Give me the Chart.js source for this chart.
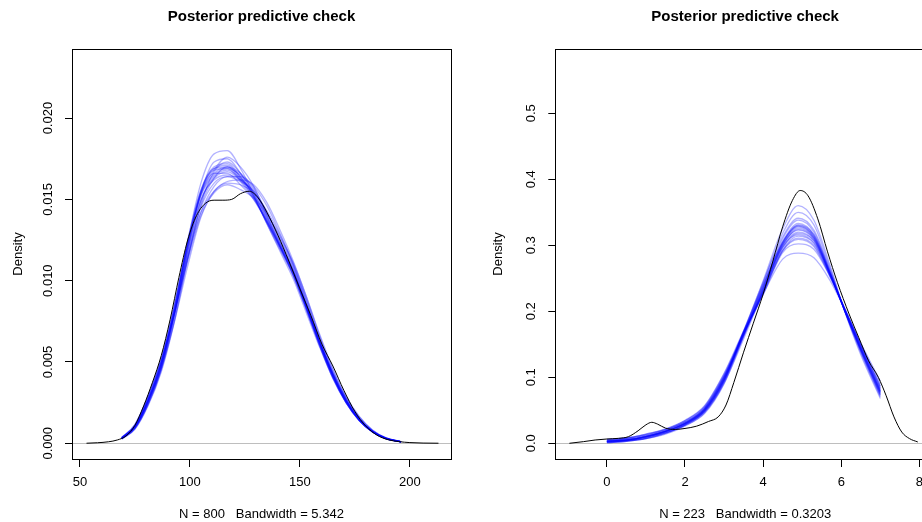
<!DOCTYPE html>
<html>
<head>
<meta charset="utf-8">
<title>Posterior predictive check</title>
<script src="https://cdn.jsdelivr.net/npm/chart.js@4"></script>
<style>
  html, body { margin: 0; padding: 0; overflow: hidden; background: #fff; width: 922px; height: 522px; }
  #left { position: absolute; left: 0; top: 0; }
  #right { position: absolute; left: 461px; top: 0; }
</style>
</head>
<body>
<canvas id="left" width="461" height="522"></canvas>
<canvas id="right" width="480" height="522"></canvas>
<script>
// ---- left panel (density values x 1000) ----
const leftObsX = [53, 58, 63, 67, 71, 75, 79, 83, 87, 91, 95, 99, 103, 107, 111, 115, 119, 123, 127, 131, 135, 140, 145, 150, 155, 160, 165, 170, 175, 180, 185, 190, 195, 200, 206, 213];
const leftObsY = [0, 0.03, 0.09, 0.2, 0.45, 1.1, 2.3, 3.75, 5.4, 7.6, 10.2, 12.5, 14.0, 14.75, 14.95, 14.95, 15.0, 15.35, 15.5, 15.1, 14.2, 12.8, 11.2, 9.5, 7.85, 6.1, 4.75, 3.25, 1.95, 1.05, 0.5, 0.22, 0.1, 0.04, 0.01, 0];

const leftRepX = [69, 75, 81, 87, 93, 99, 105, 111, 117, 123, 129, 135, 141, 147, 153, 159, 165, 171, 177, 183, 189, 196];
const leftReps = [
  [0.30, 1.00, 2.6, 4.8, 8.0, 11.8, 14.9, 16.3, 16.7, 16.2, 15.4, 13.9, 12.3, 10.7, 8.4, 6.2, 4.2, 2.6, 1.45, 0.72, 0.30, 0.08],
  [0.27, 0.90, 2.4, 4.6, 8.0, 12.4, 16.0, 17.8, 18.0, 16.9, 15.3, 13.5, 11.8, 10.1, 8.0, 5.9, 4.0, 2.5, 1.40, 0.70, 0.29, 0.08],
  [0.36, 1.15, 2.9, 5.2, 8.1, 11.4, 14.2, 15.5, 16.0, 15.9, 15.4, 14.3, 12.8, 11.0, 8.8, 6.5, 4.4, 2.8, 1.60, 0.80, 0.34, 0.10],
  [0.33, 1.05, 2.7, 5.1, 8.5, 12.3, 15.3, 16.6, 17.0, 16.4, 15.2, 13.6, 12.0, 10.4, 8.3, 6.1, 4.1, 2.6, 1.45, 0.72, 0.30, 0.09],
  [0.25, 0.85, 2.3, 4.4, 7.5, 11.3, 14.7, 16.7, 17.3, 16.6, 15.4, 13.8, 12.1, 10.3, 8.2, 6.0, 4.1, 2.5, 1.40, 0.70, 0.29, 0.07],
  [0.30, 1.00, 2.6, 4.6, 7.5, 10.9, 13.9, 15.5, 16.1, 16.2, 15.9, 14.8, 13.1, 11.2, 9.0, 6.6, 4.5, 2.8, 1.60, 0.78, 0.33, 0.09],
  [0.35, 1.15, 2.9, 5.3, 8.6, 12.4, 15.4, 16.6, 16.6, 15.9, 15.0, 13.7, 12.2, 10.6, 8.5, 6.3, 4.3, 2.7, 1.50, 0.74, 0.31, 0.09],
  [0.27, 0.92, 2.4, 4.6, 7.8, 11.9, 15.4, 17.3, 17.5, 16.6, 15.2, 13.5, 11.9, 10.3, 8.2, 6.0, 4.0, 2.5, 1.40, 0.70, 0.29, 0.08],
  [0.31, 1.02, 2.7, 4.9, 8.1, 11.6, 14.5, 16.0, 16.4, 16.1, 15.5, 14.2, 12.6, 10.9, 8.6, 6.3, 4.3, 2.7, 1.50, 0.74, 0.31, 0.09],
  [0.29, 0.97, 2.5, 4.8, 8.2, 12.2, 15.4, 16.9, 17.1, 16.3, 15.1, 13.6, 12.0, 10.4, 8.4, 6.2, 4.2, 2.6, 1.45, 0.72, 0.30, 0.08],
  [0.35, 1.12, 2.9, 5.1, 8.0, 11.2, 14.0, 15.4, 15.9, 15.6, 15.1, 14.1, 12.7, 11.1, 9.0, 6.7, 4.6, 2.9, 1.65, 0.82, 0.35, 0.10],
  [0.30, 1.02, 2.6, 5.0, 8.4, 12.2, 15.2, 16.5, 16.9, 16.5, 15.6, 14.0, 12.3, 10.5, 8.3, 6.1, 4.1, 2.55, 1.40, 0.70, 0.30, 0.08],
  [0.27, 0.90, 2.4, 4.5, 7.6, 11.4, 14.6, 16.3, 17.0, 16.6, 15.7, 14.2, 12.4, 10.6, 8.4, 6.1, 4.1, 2.5, 1.40, 0.70, 0.29, 0.08],
  [0.30, 1.00, 2.6, 4.8, 8.1, 12.2, 15.5, 17.0, 17.2, 16.4, 15.2, 13.7, 12.1, 10.5, 8.4, 6.2, 4.2, 2.6, 1.45, 0.71, 0.30, 0.08],
  [0.33, 1.08, 2.8, 5.0, 8.0, 11.4, 14.2, 15.8, 16.4, 16.4, 15.8, 14.6, 12.9, 11.0, 8.8, 6.4, 4.3, 2.7, 1.50, 0.75, 0.32, 0.09],
  [0.29, 0.97, 2.5, 4.7, 7.9, 11.7, 14.9, 16.4, 16.8, 16.3, 15.3, 13.8, 12.2, 10.6, 8.5, 6.2, 4.2, 2.6, 1.45, 0.72, 0.30, 0.08],
  [0.31, 1.03, 2.7, 5.0, 8.4, 12.5, 15.6, 16.9, 17.0, 16.2, 15.1, 13.6, 12.1, 10.5, 8.4, 6.2, 4.2, 2.6, 1.45, 0.72, 0.30, 0.08],
  [0.28, 0.95, 2.5, 4.7, 8.0, 12.0, 15.3, 16.8, 17.6, 17.0, 15.8, 14.0, 12.1, 10.3, 8.2, 6.0, 4.0, 2.5, 1.40, 0.70, 0.29, 0.08],
  [0.32, 1.05, 2.7, 4.9, 8.2, 12.0, 15.0, 16.2, 16.5, 16.2, 15.5, 14.1, 12.5, 10.8, 8.6, 6.3, 4.3, 2.7, 1.50, 0.74, 0.31, 0.09],
  [0.30, 1.00, 2.6, 4.9, 8.3, 12.3, 15.5, 16.8, 16.9, 16.1, 15.0, 13.6, 12.1, 10.5, 8.4, 6.2, 4.2, 2.6, 1.45, 0.72, 0.30, 0.08]
];
const leftXTicks = [50, 100, 150, 200];
const leftYTicks = [0, 0.005, 0.010, 0.015, 0.020];

// ---- right panel ----
const rightObsX = [-0.96, -0.6, -0.3, 0, 0.3, 0.55, 0.8, 1.0, 1.15, 1.3, 1.5, 1.75, 2.0, 2.3, 2.6, 2.85, 3.05, 3.25, 3.5, 3.75, 4.0, 4.25, 4.5, 4.75, 4.95, 5.15, 5.4, 5.65, 5.9, 6.2, 6.45, 6.7, 6.95, 7.15, 7.35, 7.55, 7.75, 7.96];
const rightObsY = [0, 0.0025, 0.005, 0.0065, 0.0075, 0.010, 0.019, 0.028, 0.0318, 0.029, 0.023, 0.021, 0.0225, 0.026, 0.033, 0.040, 0.058, 0.092, 0.138, 0.182, 0.226, 0.276, 0.328, 0.368, 0.383, 0.375, 0.340, 0.290, 0.244, 0.196, 0.160, 0.125, 0.100, 0.072, 0.040, 0.017, 0.007, 0.002];

const rightRepX = [0, 0.5, 1.0, 1.5, 2.0, 2.5, 3.0, 3.5, 4.0, 4.5, 4.9, 5.3, 5.7, 6.1, 6.5, 7.0];
const rightReps = [
  [0.003, 0.005, 0.010, 0.018, 0.030, 0.050, 0.097, 0.165, 0.232, 0.298, 0.320, 0.307, 0.257, 0.200, 0.145, 0.080],
  [0.001, 0.003, 0.007, 0.014, 0.026, 0.046, 0.092, 0.168, 0.246, 0.325, 0.360, 0.338, 0.272, 0.198, 0.134, 0.068],
  [0.006, 0.008, 0.014, 0.022, 0.035, 0.057, 0.106, 0.170, 0.226, 0.279, 0.288, 0.281, 0.248, 0.202, 0.152, 0.094],
  [0.003, 0.005, 0.010, 0.018, 0.031, 0.052, 0.100, 0.170, 0.240, 0.303, 0.328, 0.312, 0.259, 0.199, 0.143, 0.078],
  [0.001, 0.003, 0.007, 0.015, 0.028, 0.047, 0.091, 0.158, 0.230, 0.304, 0.331, 0.316, 0.262, 0.200, 0.141, 0.074],
  [0.005, 0.008, 0.013, 0.021, 0.034, 0.055, 0.103, 0.167, 0.228, 0.291, 0.309, 0.298, 0.254, 0.201, 0.149, 0.086],
  [0.002, 0.004, 0.008, 0.016, 0.028, 0.048, 0.094, 0.170, 0.244, 0.313, 0.341, 0.323, 0.265, 0.199, 0.139, 0.072],
  [0.003, 0.005, 0.010, 0.018, 0.030, 0.050, 0.096, 0.162, 0.230, 0.300, 0.323, 0.309, 0.258, 0.200, 0.144, 0.079],
  [0.004, 0.007, 0.012, 0.020, 0.032, 0.054, 0.102, 0.166, 0.226, 0.293, 0.314, 0.303, 0.257, 0.203, 0.149, 0.084],
  [0.002, 0.004, 0.009, 0.017, 0.029, 0.048, 0.095, 0.168, 0.240, 0.306, 0.333, 0.316, 0.261, 0.199, 0.141, 0.075],
  [0.003, 0.005, 0.010, 0.018, 0.030, 0.052, 0.099, 0.163, 0.229, 0.296, 0.318, 0.307, 0.258, 0.202, 0.147, 0.082],
  [0.001, 0.003, 0.007, 0.015, 0.027, 0.045, 0.090, 0.163, 0.242, 0.318, 0.350, 0.331, 0.268, 0.198, 0.137, 0.070],
  [0.006, 0.008, 0.014, 0.021, 0.034, 0.056, 0.105, 0.168, 0.225, 0.289, 0.302, 0.294, 0.254, 0.203, 0.151, 0.090],
  [0.003, 0.005, 0.010, 0.018, 0.030, 0.050, 0.097, 0.168, 0.236, 0.301, 0.326, 0.311, 0.259, 0.200, 0.144, 0.078],
  [0.004, 0.006, 0.011, 0.019, 0.032, 0.053, 0.101, 0.166, 0.231, 0.297, 0.316, 0.304, 0.256, 0.201, 0.147, 0.083],
  [0.002, 0.004, 0.009, 0.016, 0.028, 0.049, 0.094, 0.162, 0.234, 0.303, 0.329, 0.313, 0.260, 0.199, 0.142, 0.076],
  [0.003, 0.005, 0.010, 0.018, 0.030, 0.051, 0.098, 0.167, 0.237, 0.305, 0.330, 0.314, 0.260, 0.200, 0.143, 0.077],
  [0.002, 0.004, 0.008, 0.016, 0.028, 0.049, 0.095, 0.164, 0.236, 0.310, 0.338, 0.320, 0.263, 0.199, 0.140, 0.073],
  [0.004, 0.007, 0.012, 0.020, 0.032, 0.053, 0.101, 0.167, 0.229, 0.292, 0.311, 0.300, 0.255, 0.202, 0.149, 0.087],
  [0.003, 0.005, 0.010, 0.018, 0.030, 0.051, 0.098, 0.166, 0.233, 0.300, 0.324, 0.310, 0.258, 0.200, 0.145, 0.080]
];
const rightXTicks = [0, 2, 4, 6, 8];
const rightYTicks = [0, 0.1, 0.2, 0.3, 0.4, 0.5];

const FONT = "'Liberation Sans', Arial, Helvetica, sans-serif";
const repColor = 'rgba(0, 0, 255, 0.3)';

// zip x and y lists into chart points (k rescales the per-mille values)
function toPoints(xs, ys, k) {
  return xs.map((x, i) => ({ x: x, y: ys[i] * k }));
}

// R-style box around the plot region
const plotBox = {
  id: 'plotBox',
  afterDraw(chart) {
    const a = chart.chartArea;
    const ctx = chart.ctx;
    ctx.save();
    ctx.strokeStyle = '#000';
    ctx.lineWidth = 1;
    ctx.strokeRect(Math.round(a.left) + 0.5, Math.round(a.top) + 0.5,
                   Math.round(a.right - a.left), Math.round(a.bottom - a.top));
    ctx.restore();
  }
};

function makePanel(p) {
  const datasets = [{
    data: toPoints(p.obsX, p.obsY, p.k),
    borderColor: '#000',
    borderWidth: 1
  }];
  p.reps.forEach(r => {
    datasets.push({ data: toPoints(p.repX, r, p.k), borderColor: repColor, borderWidth: 1.3 });
  });

  return new Chart(document.getElementById(p.id), {
    type: 'line',
    data: { datasets: datasets },
    options: {
      responsive: false,
      animation: false,
      events: [],
      elements: {
        point: { radius: 0 },
        line: { cubicInterpolationMode: 'monotone', fill: false }
      },
      layout: { padding: { left: 0, right: p.padRight, top: 0, bottom: 0 } },
      plugins: {
        legend: { display: false },
        tooltip: { enabled: false },
        title: {
          display: true,
          fullSize: false,
          text: 'Posterior predictive check',
          color: '#000',
          font: { family: FONT, size: 15, weight: 'bold' },
          padding: { top: 7.5, bottom: 23.5 }
        }
      },
      scales: {
        x: {
          type: 'linear',
          min: p.xMin,
          max: p.xMax,
          afterBuildTicks: s => { s.ticks = p.xTicks.map(v => ({ value: v })); },
          afterFit: s => { s.height = 63; },
          ticks: {
            autoSkip: false, minRotation: 0, maxRotation: 0, padding: 8,
            color: '#000', font: { family: FONT, size: 13 },
            callback: v => String(v)
          },
          grid: { drawOnChartArea: false, tickColor: '#000', tickLength: 8 },
          border: { display: false },
          title: {
            display: true, text: p.sub, color: '#000',
            font: { family: FONT, size: 13 }, padding: { top: 0, bottom: 0 }
          }
        },
        y: {
          type: 'linear',
          min: p.yMin,
          max: p.yMax,
          afterBuildTicks: s => { s.ticks = p.yTicks.map(v => ({ value: v })); },
          afterFit: s => { s.width = p.yWidth; },
          ticks: {
            autoSkip: false, minRotation: 90, maxRotation: 90, crossAlign: 'center',
            padding: p.yLabelPad, color: '#000', font: { family: FONT, size: 13 },
            callback: v => v.toFixed(p.yDec)
          },
          grid: {
            color: c => (c.tick && c.tick.value === 0) ? '#bebebe' : 'rgba(0,0,0,0)',
            tickColor: '#000',
            tickLength: 7
          },
          border: { display: false },
          title: {
            display: true, text: 'Density', color: '#000',
            font: { family: FONT, size: 13 }, padding: { top: p.yTitlePad, bottom: 0 }
          }
        }
      }
    },
    plugins: [plotBox]
  });
}

makePanel({
  id: 'left', k: 0.001,
  obsX: leftObsX, obsY: leftObsY, repX: leftRepX, reps: leftReps,
  xMin: 46.4, xMax: 218.7, yMin: -0.00097, yMax: 0.02425,
  xTicks: leftXTicks, yTicks: leftYTicks, yDec: 3,
  yWidth: 72, yLabelPad: 0.5, yTitlePad: 10.5, padRight: 10,
  sub: 'N = 800   Bandwidth = 5.342'
});

makePanel({
  id: 'right', k: 1,
  obsX: rightObsX, obsY: rightObsY, repX: rightRepX, reps: rightReps,
  xMin: -1.32, xMax: 8.4, yMin: -0.0238, yMax: 0.5974,
  xTicks: rightXTicks, yTicks: rightYTicks, yDec: 1,
  yWidth: 94.3, yLabelPad: 7.5, yTitlePad: 29.5, padRight: 6,
  sub: 'N = 223   Bandwidth = 0.3203'
});
</script>
</body>
</html>
